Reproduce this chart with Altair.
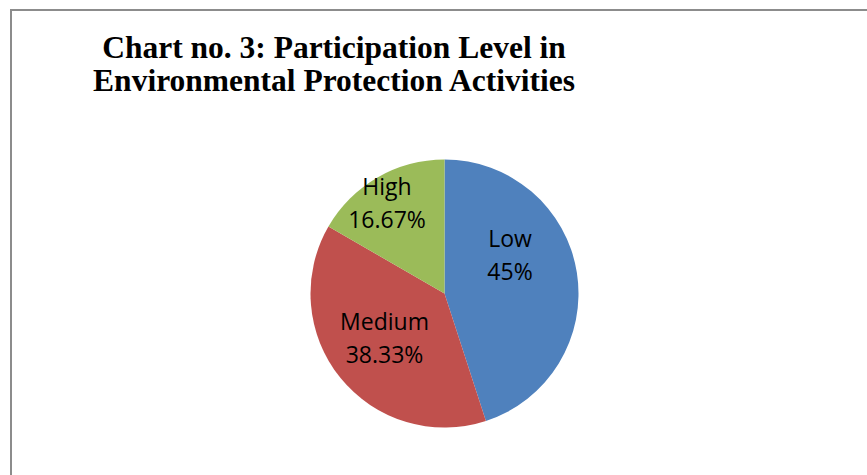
import altair as alt
import pandas as pd

# Participation levels and their shares of respondents
categories = ["Low", "Medium", "High"]
shares = [45.0, 38.33, 16.67]
share_labels = ["45%", "38.33%", "16.67%"]
slice_colors = ["#4F81BD", "#C0504D", "#9BBB59"]

df = pd.DataFrame({
    "level": categories,
    "share": shares,
    "pct": share_labels,
    "order": list(range(len(categories))),
})
df["label"] = df["level"] + "\n" + df["pct"]

W, H = 856, 465
CX, CY, R = 433.5, 283.5, 134

color = alt.Color("level:N", scale=alt.Scale(domain=categories, range=slice_colors), legend=None)
theta = alt.Theta("share:Q", stack=True)
order = alt.Order("order:Q")

frame = alt.Chart(df).mark_rect(fill=None, stroke="#8c8c8c", strokeWidth=2).encode(
    x=alt.value(0), x2=alt.value(W + 40), y=alt.value(0), y2=alt.value(H + 40)
).transform_filter("datum.order == 0")

pie = alt.Chart(df).mark_arc(outerRadius=R).encode(
    theta=theta, color=color, order=order,
    x=alt.value(CX), y=alt.value(CY),
)

# label nudges per slice (pixel offsets from the slice midpoint)
nudges = {"Low": (-13.5, -41), "Medium": (2.2, -21.3), "High": (-17.5, -36.2)}
texts = []
for lvl, (ddx, ddy) in nudges.items():
    texts.append(
        alt.Chart(df).mark_text(
            font="Open Sans", fontSize=23, lineHeight=33, lineBreak="\n",
            color="#000000", align="center", baseline="middle", dx=ddx, dy=ddy,
        ).encode(
            theta=theta, order=order, text="label:N",
            radius=alt.value(80), x=alt.value(CX), y=alt.value(CY),
            opacity=alt.condition(f"datum.level == '{lvl}'", alt.value(1), alt.value(0)),
        )
    )

chart = alt.layer(frame, pie, *texts).properties(
    width=W, height=H,
    autosize=alt.AutoSizeParams(type="none"),
    padding={"left": 11, "top": 10, "right": 0, "bottom": 0},
    title=alt.TitleParams(
        text=["Chart no. 3: Participation Level in", "Environmental Protection Activities"],
        font="Liberation Serif", fontSize=31.5, fontWeight="bold", color="#000000",
        anchor="middle", frame="group", lineHeight=33, dx=-105, dy=92,
    ),
).configure_view(stroke=None).configure(background="white")

chart.save("out.html", embed_options={"renderer": "svg", "actions": False})
